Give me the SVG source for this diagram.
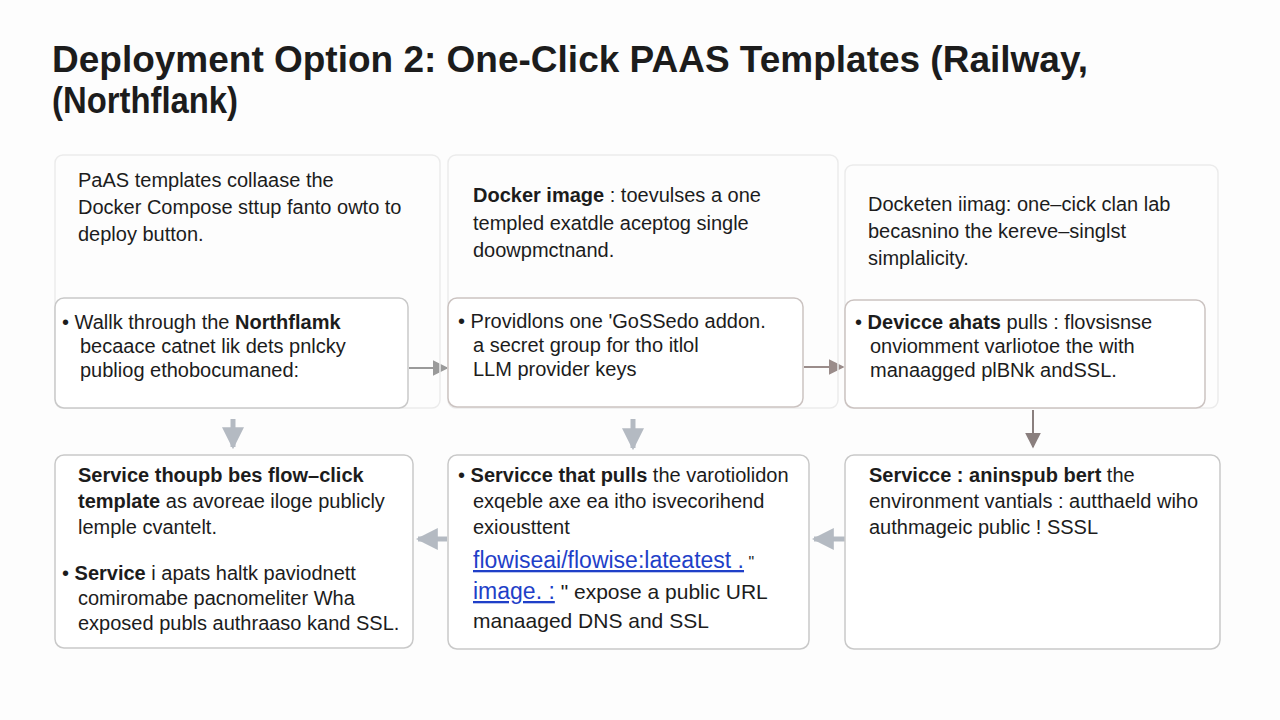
<svg xmlns="http://www.w3.org/2000/svg" width="1280" height="720" viewBox="0 0 1280 720">
<style>
.t{font-family:"Liberation Sans",Arial,sans-serif;fill:#1c1c1c}
.h{font-size:20px}
.b{font-size:20px}
.bold{font-weight:bold}
.panel{fill:none;stroke:#ebebeb;stroke-width:1.5}
.box{fill:#fff;stroke:#c9c9c9;stroke-width:1.5}
.boxw{fill:#fff;stroke:#cbc3c1;stroke-width:1.5}
.link{fill:#1f3fc8;font-size:23px;text-decoration:underline}
</style>
<defs>
<marker id="ag" viewBox="0 0 10 10" refX="9" refY="5" markerWidth="8" markerHeight="8" orient="auto"><path d="M0,0L10,5L0,10z" fill="#9a9a9a"/></marker>
<marker id="ab" viewBox="0 0 10 10" refX="9" refY="5" markerWidth="8" markerHeight="8" orient="auto"><path d="M0,0L10,5L0,10z" fill="#9a8c8a"/></marker>
<marker id="al" viewBox="0 0 10 10" refX="9" refY="5" markerWidth="4.4" markerHeight="4.4" orient="auto"><path d="M0,0L10,5L0,10z" fill="#b4bac2"/></marker>
<marker id="ad" viewBox="0 0 10 10" refX="9" refY="5" markerWidth="8" markerHeight="8" orient="auto"><path d="M0,0L10,5L0,10z" fill="#8a7f7e"/></marker>
</defs>
<rect width="1280" height="720" fill="#fdfdfd"/>
<g id="title">
<text class="t bold" x="52" y="72" font-size="36" textLength="1036" lengthAdjust="spacingAndGlyphs">Deployment Option 2: One-Click PAAS Templates  (Railway,</text>
<text class="t bold" x="52" y="113" font-size="36" textLength="186" lengthAdjust="spacingAndGlyphs">(Northflank)</text>
</g>
<g id="connectors">
<line x1="409" y1="368" x2="447" y2="368" stroke="#9a9a9a" stroke-width="2" marker-end="url(#ag)"/>
<line x1="804" y1="367" x2="843" y2="367" stroke="#9a8c8a" stroke-width="2" marker-end="url(#ab)"/>
<line x1="233" y1="419" x2="233" y2="447" stroke="#b4bac2" stroke-width="5" marker-end="url(#al)"/>
<line x1="633" y1="419" x2="633" y2="448" stroke="#b4bac2" stroke-width="5" marker-end="url(#al)"/>
<line x1="1033" y1="410" x2="1033" y2="447" stroke="#8a7f7e" stroke-width="2" marker-end="url(#ad)"/>
<line x1="447" y1="539" x2="418" y2="539" stroke="#b4bac2" stroke-width="5" marker-end="url(#al)"/>
<line x1="845" y1="539" x2="814" y2="539" stroke="#b4bac2" stroke-width="5" marker-end="url(#al)"/>
</g>
<g id="panel1">
<rect class="panel" x="55" y="155" width="385" height="253" rx="8"/>
<text class="t h" x="78" y="187">PaAS templates collaase the</text>
<text class="t h" x="78" y="214">Docker Compose sttup fanto owto to</text>
<text class="t h" x="78" y="241">deploy button.</text>
<rect class="box" x="55" y="298" width="353" height="110" rx="9"/>
<text class="t b" x="62" y="329">• Wallk through the <tspan class="bold">Northflamk</tspan></text>
<text class="t b" x="80" y="353">becaace catnet lik dets pnlcky</text>
<text class="t b" x="80" y="377">publiog ethobocumaned:</text>
</g>
<g id="panel2">
<rect class="panel" x="448" y="155" width="390" height="253" rx="8"/>
<text class="t h" x="473" y="202"><tspan class="bold">Docker image</tspan> : toevulses a one</text>
<text class="t h" x="473" y="230">templed exatdle aceptog single</text>
<text class="t h" x="473" y="257">doowpmctnand.</text>
<rect class="boxw" x="448" y="298" width="355" height="109" rx="9"/>
<text class="t b" x="458" y="328">• Providlons  one 'GoSSedo addon.</text>
<text class="t b" x="473" y="352">a secret group for tho itlol</text>
<text class="t b" x="473" y="376">LLM provider keys</text>
</g>
<g id="panel3">
<rect class="panel" x="845" y="165" width="373" height="243" rx="8"/>
<text class="t h" x="868" y="211">Docketen iimag: one–cick clan lab</text>
<text class="t h" x="868" y="238">becasnino the kereve–singlst</text>
<text class="t h" x="868" y="265">simplalicity.</text>
<rect class="boxw" x="845" y="300" width="360" height="108" rx="9"/>
<text class="t b" x="855" y="329">• <tspan class="bold">Devicce ahats</tspan> pulls : flovsisnse</text>
<text class="t b" x="870" y="353">onviomment varliotoe the with</text>
<text class="t b" x="870" y="377">manaagged plBNk andSSL.</text>
</g>
<g id="box4">
<rect class="box" x="55" y="455" width="358" height="193" rx="9"/>
<text class="t b" x="78" y="482"><tspan class="bold">Service thoupb bes flow–click</tspan></text>
<text class="t b" x="78" y="508"><tspan class="bold">template</tspan> as avoreae iloge publicly</text>
<text class="t b" x="78" y="534">lemple cvantelt.</text>
<text class="t b" x="62" y="580">• <tspan class="bold">Service</tspan> i apats haltk paviodnett</text>
<text class="t b" x="78" y="605">comiromabe pacnomeliter Wha</text>
<text class="t b" x="78" y="630">exposed publs authraaso kand SSL.</text>
</g>
<g id="box5">
<rect class="box" x="448" y="455" width="361" height="194" rx="9"/>
<text class="t b" x="458" y="482">• <tspan class="bold">Servicce that pulls</tspan> the varotiolidon</text>
<text class="t b" x="473" y="508">exqeble axe ea itho isvecorihend</text>
<text class="t b" x="473" y="534">exiousttent</text>
<text class="t" x="473" y="568"><tspan class="link">flowiseai/flowise:lateatest .</tspan><tspan font-size="16"> "</tspan></text>
<text class="t" x="473" y="599"><tspan class="link">image. :</tspan><tspan font-size="21"> " expose a public URL</tspan></text>
<text class="t" x="473" y="628" font-size="21">manaaged DNS and  SSL</text>
</g>
<g id="box6">
<rect class="box" x="845" y="455" width="375" height="194" rx="9"/>
<text class="t b" x="869" y="482"><tspan class="bold">Servicce : aninspub bert</tspan> the</text>
<text class="t b" x="869" y="508">environment vantials : autthaeld wiho</text>
<text class="t b" x="869" y="534">authmageic public ! SSSL</text>
</g>
</svg>
